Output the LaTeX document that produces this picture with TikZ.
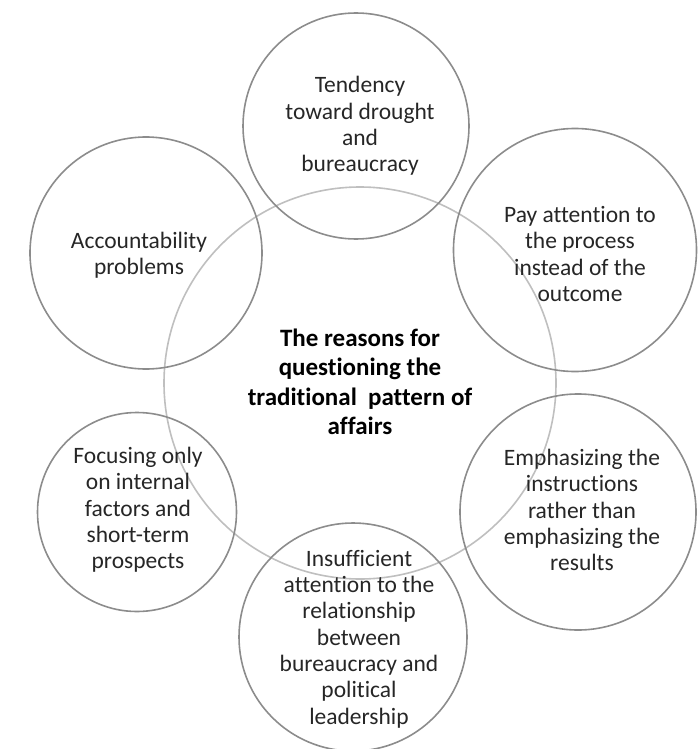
\documentclass[tikz,border=0pt]{standalone}
\usepackage{fontspec}
\setmainfont{Carlito}[Ligatures={NoCommon}]
\begin{document}
\begin{tikzpicture}[x=1pt,y=-1pt,
  outer/.style={circle,draw=black!45,line width=1.6pt,inner sep=0pt},
  hub/.style={circle,draw=black!25,line width=1.6pt,inner sep=0pt},
  lbl/.style={align=center,text=black!85,font=\fontsize{23.5}{26.3}\selectfont,inner sep=0pt},
  hublbl/.style={align=center,text=black,font=\fontsize{25}{29.5}\selectfont\bfseries,inner sep=0pt}]
\useasboundingbox (0,0) rectangle (699,749);
% central circle
\node[hub,minimum size=392pt] (hubc) at (360,383) {};
% outer circles
\node[outer,minimum size=226pt] (top) at (356,126) {};
\node[outer,minimum size=243pt] (pay) at (575,250) {};
\node[outer,minimum size=232pt] (acc) at (146,253) {};
\node[outer,minimum size=236pt] (emph) at (578,512) {};
\node[outer,minimum size=199pt] (focus) at (137,512) {};
\node[outer,minimum size=228pt] (insuf) at (353,637) {};
% texts
\node[hublbl] (hubt) at (360,382) {The reasons for\\questioning the\\traditional\ \ pattern of\\affairs};
\node[lbl] (topt) at (360,126) {Tendency\\toward drought\\and\\bureaucracy};
\node[lbl] (payt) at (580,254) {Pay attention to\\the process\\instead of the\\outcome};
\node[lbl] (acct) at (139,255) {Accountability\\problems};
\node[lbl] (emppt) at (582,510) {Emphasizing the\\instructions\\rather than\\emphasizing the\\results};
\node[lbl] (focust) at (138,510) {Focusing only\\on internal\\factors and\\short-term\\prospects};
\node[lbl] (insuft) at (359,639) {Insufficient\\attention to the\\relationship\\between\\bureaucracy and\\political\\leadership};
\end{tikzpicture}
\end{document}
